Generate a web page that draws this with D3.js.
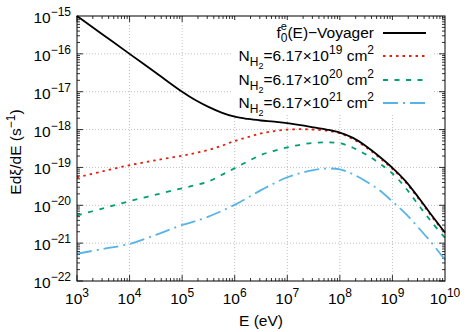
<!DOCTYPE html>
<html>
<head>
	<script src="https://d3js.org/d3.v7.min.js"></script>
	<style>
		body { margin: 0; background: white; }
		text { font-family: "Liberation Sans", Arial, sans-serif; fill: black; }
	</style>
</head>
<body>
<svg id="main" width="473" height="332"></svg>
<script>
	// log10 of E (eV)
	var logE = [3, 3.5, 4, 4.5, 5, 5.25, 5.5, 5.75, 6, 6.25, 6.5, 6.75, 7, 7.25, 7.5, 7.75, 8, 8.25, 8.5, 8.75, 9, 9.25, 9.5, 9.75, 10];

	// log10 of E dxi/dE (s^-1)
	var voyager = [-15, -15.5, -16, -16.5, -17, -17.22, -17.4, -17.55, -17.66, -17.72, -17.76, -17.79, -17.83, -17.88, -17.94, -18.0, -18.08, -18.22, -18.44, -18.71, -19.01, -19.36, -19.8, -20.27, -20.72];
	var nh19 = [-19.26, -19.1, -18.94, -18.81, -18.69, -18.62, -18.54, -18.43, -18.3, -18.2, -18.1, -18.04, -18.0, -17.99, -18.0, -18.03, -18.1, -18.25, -18.47, -18.74, -19.04, -19.39, -19.83, -20.3, -20.74];
	var nh20 = [-20.27, -20.08, -19.89, -19.72, -19.55, -19.47, -19.37, -19.2, -19.02, -18.84, -18.67, -18.56, -18.47, -18.4, -18.35, -18.34, -18.36, -18.48, -18.66, -18.89, -19.16, -19.54, -20.0, -20.45, -20.86];
	var nh21 = [-21.28, -21.15, -21.02, -20.78, -20.52, -20.42, -20.3, -20.15, -19.99, -19.8, -19.6, -19.42, -19.26, -19.15, -19.07, -19.03, -19.05, -19.18, -19.37, -19.6, -19.9, -20.22, -20.6, -21.0, -21.44];

	var xTickExp = [3, 4, 5, 6, 7, 8, 9, 10];
	var yTickExp = [-15, -16, -17, -18, -19, -20, -21, -22];
	var legendExp = ["19", "20", "21"];

	var LEFT = 77, RIGHT = 445, TOP = 16, BOTTOM = 281;
	var FS = '15.5px', SUP = '12px';

	var svg = d3.select('#main');

	var x = d3.scaleLog().domain([1e3, 1e10]).range([LEFT, RIGHT]);
	var y = d3.scaleLog().domain([1e-22, 1e-15]).range([BOTTOM, TOP]);

	// grid
	var grid = svg.append('g');
	xTickExp.slice(1, -1).forEach(function(e) {
		grid.append('line').attr('x1', x(Math.pow(10, e))).attr('x2', x(Math.pow(10, e)))
			.attr('y1', TOP).attr('y2', BOTTOM)
			.attr('stroke', '#b0b0b0').attr('stroke-width', 0.8).attr('stroke-dasharray', '1,2');
	});
	yTickExp.slice(1, -1).forEach(function(e) {
		grid.append('line').attr('y1', y(Math.pow(10, e))).attr('y2', y(Math.pow(10, e)))
			.attr('x1', LEFT).attr('x2', RIGHT)
			.attr('stroke', '#b0b0b0').attr('stroke-width', 0.8).attr('stroke-dasharray', '1,2');
	});

	// ticks on all four sides, pointing in
	var ticks = svg.append('g').attr('stroke', 'black').attr('stroke-width', 0.8);
	for (var e = 3; e < 10; e++) {
		for (var m = 1; m < 10; m++) {
			var v = m * Math.pow(10, e);
			var len = m == 1 ? 6 : 3;
			ticks.append('line').attr('x1', x(v)).attr('x2', x(v)).attr('y1', BOTTOM).attr('y2', BOTTOM - len);
			ticks.append('line').attr('x1', x(v)).attr('x2', x(v)).attr('y1', TOP).attr('y2', TOP + len);
		}
	}
	for (var e = -22; e < -15; e++) {
		for (var m = 1; m < 10; m++) {
			var v = m * Math.pow(10, e);
			var len = m == 1 ? 6 : 3;
			ticks.append('line').attr('y1', y(v)).attr('y2', y(v)).attr('x1', LEFT).attr('x2', LEFT + len);
			ticks.append('line').attr('y1', y(v)).attr('y2', y(v)).attr('x1', RIGHT).attr('x2', RIGHT - len);
		}
	}

	// tick labels
	xTickExp.forEach(function(e) {
		var t = svg.append('text').attr('x', x(Math.pow(10, e))).attr('y', 304)
			.attr('text-anchor', 'middle').style('font-size', FS);
		t.append('tspan').text('10');
		t.append('tspan').attr('dy', -7).style('font-size', SUP).text(e);
	});
	yTickExp.forEach(function(e) {
		var t = svg.append('text').attr('x', 71).attr('y', y(Math.pow(10, e)) + 7)
			.attr('text-anchor', 'end').style('font-size', FS);
		t.append('tspan').text('10');
		t.append('tspan').attr('dy', -7).style('font-size', SUP).text('\u2212' + (-e));
	});

	// axis titles
	svg.append('text').attr('x', 261).attr('y', 326).attr('text-anchor', 'middle')
		.style('font-size', FS).text('E (eV)');
	var yl = svg.append('text').attr('transform', 'translate(21,152) rotate(-90)')
		.attr('text-anchor', 'middle').style('font-size', FS);
	yl.append('tspan').text('Ed\u03BE/dE (s');
	yl.append('tspan').attr('dy', -6).style('font-size', SUP).text('\u22121');
	yl.append('tspan').attr('dy', 6).text(')');

	// curves
	var line = d3.line()
		.x(function(d) { return x(Math.pow(10, d[0])); })
		.y(function(d) { return y(Math.pow(10, d[1])); })
		.curve(d3.curveCatmullRom.alpha(0.5));

	var series = [
		{ vals: nh21, color: '#56b4e9', dash: '15,5,2,5', w: 1.8 },
		{ vals: nh20, color: '#009e73', dash: '5,6.5', w: 1.8 },
		{ vals: nh19, color: '#e51e10', dash: '2.5,4', w: 1.8 },
		{ vals: voyager, color: 'black', dash: null, w: 1.8 }
	];
	series.forEach(function(s) {
		svg.append('path')
			.datum(logE.map(function(e, i) { return [e, s.vals[i]]; }))
			.attr('d', line)
			.attr('fill', 'none')
			.attr('stroke', s.color)
			.attr('stroke-width', s.w)
			.attr('stroke-dasharray', s.dash);
	});

	// frame
	svg.append('rect').attr('x', LEFT).attr('y', TOP).attr('width', RIGHT - LEFT).attr('height', BOTTOM - TOP)
		.attr('fill', 'none').attr('stroke', 'black').attr('stroke-width', 1);

	// legend
	var legY = [33, 56, 80, 103];
	var leg = svg.append('g');
	leg.append('rect').attr('x', 233).attr('y', 20).attr('width', 200).attr('height', 95).attr('fill', 'white');

	// f with stacked sub 0 / sup e
	var t0 = leg.append('text').attr('x', 374).attr('y', legY[0] + 5).attr('text-anchor', 'end').style('font-size', FS);
	t0.append('tspan').text('f');
	t0.append('tspan').attr('dy', 4).style('font-size', SUP).text('0');
	t0.append('tspan').attr('dy', -4).text('(E)\u2212Voyager');
	var fw = t0.node().getComputedTextLength();
	var restW = t0.select('tspan:last-child').node().getComputedTextLength();
	leg.append('text').attr('x', 374 - restW - 6.7).attr('y', legY[0] - 3).style('font-size', '11px').text('e');

	legendExp.forEach(function(p, i) {
		var t = leg.append('text').attr('x', 374).attr('y', legY[i + 1] + 5).attr('text-anchor', 'end').style('font-size', FS);
		t.append('tspan').text('N');
		t.append('tspan').attr('dy', 5).style('font-size', SUP).text('H');
		t.append('tspan').attr('dy', 3).style('font-size', '9px').text('2');
		t.append('tspan').attr('dy', -8).text('=6.17\u00D710');
		t.append('tspan').attr('dy', -7).style('font-size', SUP).text(p);
		t.append('tspan').attr('dy', 7).text(' cm');
		t.append('tspan').attr('dy', -7).style('font-size', SUP).text('2');
	});

	var legStyles = [series[3], series[2], series[1], series[0]];
	legStyles.forEach(function(s, i) {
		leg.append('line').attr('x1', 383).attr('x2', 426).attr('y1', legY[i]).attr('y2', legY[i])
			.attr('stroke', s.color).attr('stroke-width', s.w).attr('stroke-dasharray', s.dash);
	});
</script>
</body>
</html>
